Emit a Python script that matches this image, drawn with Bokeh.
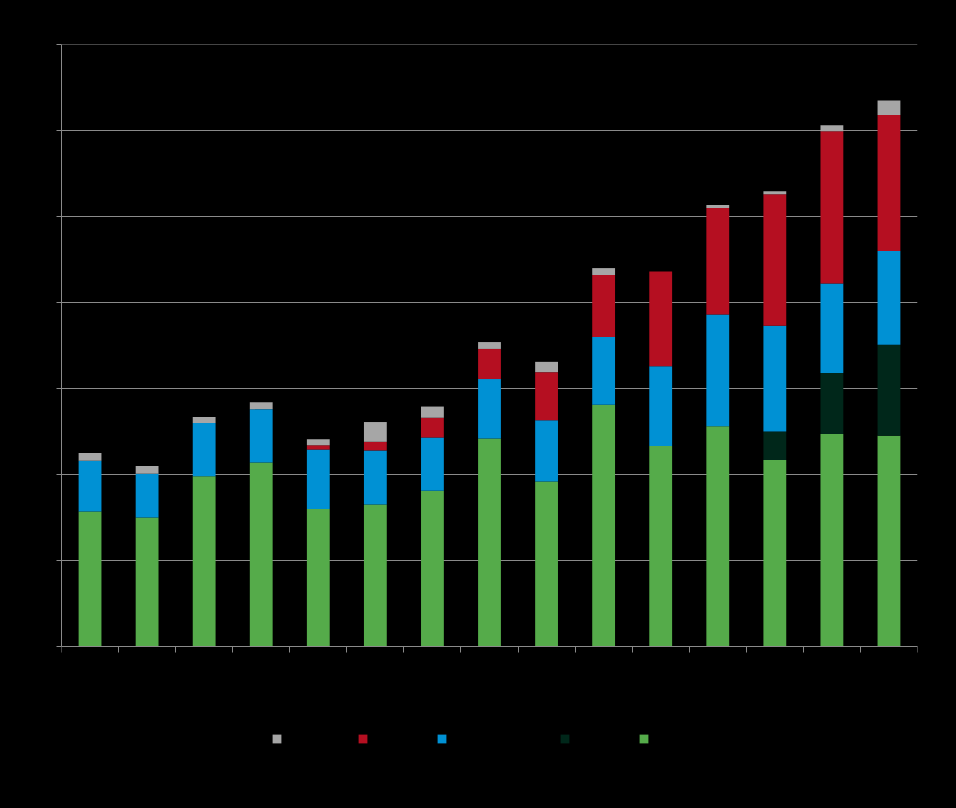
from bokeh.plotting import figure
from bokeh.models import ColumnDataSource, Legend, LegendItem, FixedTicker, Range1d, Span
from bokeh.embed import file_html
from bokeh.resources import INLINE

# ---- data ----
positions = [i + 0.5 for i in range(15)]
series_names = ["Segment A", "Segment B", "Segment C (new)", "Segment D", "Category E"]
green = [15.7, 15.0, 19.8, 21.4, 16.0, 16.5, 18.1, 24.2, 19.2, 28.1, 23.3, 25.6, 21.7, 24.7, 24.5]
dark_green = [0, 0, 0, 0, 0, 0, 0, 0, 0, 0, 0, 0, 3.3, 7.1, 10.6]
blue = [5.9, 5.1, 6.2, 6.2, 6.9, 6.3, 6.2, 6.9, 7.1, 7.9, 9.3, 13.0, 12.3, 10.4, 10.9]
red = [0, 0, 0, 0, 0.5, 1.0, 2.3, 3.5, 5.6, 7.2, 11.0, 12.4, 15.3, 17.7, 15.8]
gray = [0.9, 0.9, 0.7, 0.8, 0.7, 2.3, 1.3, 0.8, 1.2, 0.8, 0.0, 0.35, 0.35, 0.7, 1.7]
y_ticks = [0, 10, 20, 30, 40, 50, 60, 70]

keys = ["green", "dark", "blue", "red", "gray"]
colors = ["#55ab4a", "#00271a", "#0091d4", "#b50f21", "#a6a6a6"]

source = ColumnDataSource(dict(x=positions, green=green, dark=dark_green,
                               blue=blue, red=red, gray=gray))

# frame extends below zero so the legend (drawn under the axis) is not clipped
p = figure(width=940, height=792, output_backend="svg", toolbar_location=None,
           x_range=Range1d(0, 15), y_range=Range1d(-15, 70),
           min_border_left=53, min_border_right=31, min_border_top=36,
           min_border_bottom=25)
p.background_fill_color = "black"
p.border_fill_color = "black"
p.outline_line_color = None

renderers = p.vbar_stack(keys, x="x", width=0.4, source=source,
                         color=colors, line_color=None)

# grid
grid_color = "#8a8a8a"
p.xgrid.grid_line_color = None
p.ygrid.grid_line_color = grid_color
p.ygrid.grid_line_width = 1
p.ygrid.ticker = FixedTicker(ticks=y_ticks)
p.add_layout(Span(location=y_ticks[-1], dimension="width",
                  line_color=grid_color, line_width=1))

# left axis
p.yaxis.ticker = FixedTicker(ticks=y_ticks)
p.yaxis.bounds = (0, 70)
p.yaxis.axis_line_color = grid_color
p.yaxis.major_tick_line_color = grid_color
p.yaxis.major_tick_out = 5
p.yaxis.major_tick_in = 0
p.yaxis.minor_tick_line_color = None
p.yaxis.major_label_text_color = "black"

# bottom axis at zero: ticks at category boundaries
p.xaxis.fixed_location = 0
p.xaxis.ticker = FixedTicker(ticks=list(range(16)))
p.xaxis.axis_line_color = grid_color
p.xaxis.major_tick_line_color = grid_color
p.xaxis.major_tick_out = 6
p.xaxis.major_tick_in = 0
p.xaxis.minor_tick_line_color = None
p.xaxis.major_label_overrides = {i: "" for i in range(16)}
p.xaxis.major_label_text_color = "black"

# legend (top of stack first)
order = [4, 3, 2, 1, 0]
items = [LegendItem(label=series_names[::-1][k], renderers=[renderers[i]])
         for k, i in enumerate(order)]
legend = Legend(items=items, orientation="horizontal", location=(210, 30),
                glyph_width=11, glyph_height=11, label_height=9,
                label_standoff=3, spacing=0,
                padding=0, margin=0, background_fill_alpha=0,
                border_line_alpha=0, label_text_color="black",
                label_text_font="DejaVu Sans Mono", label_text_font_size="12px")
p.add_layout(legend)

html = file_html(p, INLINE)
html = html.replace("</head>", "<style>html,body{background:#000;margin:0;}body{margin:8px;}</style></head>", 1)
open("out.html", "w").write(html)
